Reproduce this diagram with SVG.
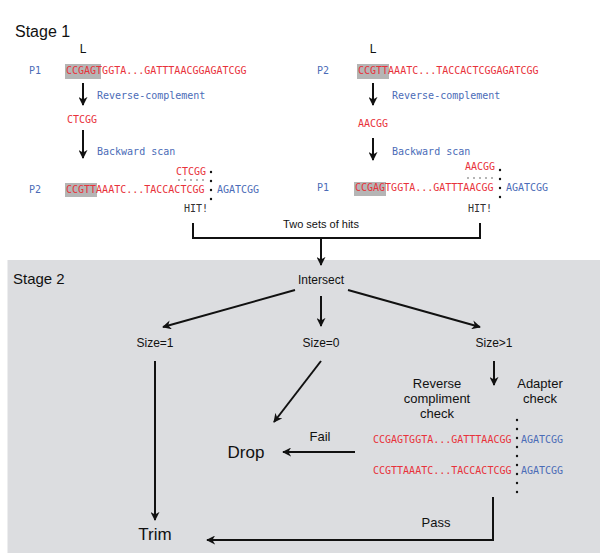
<svg xmlns="http://www.w3.org/2000/svg" width="600" height="553" viewBox="0 0 600 553">
<style>
.h{font-family:"Liberation Sans",Arial,sans-serif;fill:#111}
.m{font-family:"DejaVu Sans Mono","Liberation Mono",monospace;font-size:10px}
.r{fill:#e8323a}
.b{fill:#4b6cb7}
.k{fill:#333333}
.hl{fill:#b5b5b5}
.ln{fill:none;stroke:#111;stroke-width:2}
.ar{fill:none;stroke:#111;stroke-width:2;marker-end:url(#ah)}
.c{text-anchor:middle}
</style>
<defs>
<marker id="ah" viewBox="0 0 10 10" refX="9" refY="5" markerWidth="9" markerHeight="9" markerUnits="userSpaceOnUse" orient="auto">
<path d="M0,0 L10,5 L0,10 L3,5 z" fill="#111"/>
</marker>
<g id="colon4"><circle cx="0" cy="0" r="1.2"/><circle cx="0" cy="9" r="1.2"/><circle cx="0" cy="18" r="1.2"/><circle cx="0" cy="27" r="1.2"/></g>
<g id="dots5" fill="#333"><circle cx="0" cy="0" r="0.7"/><circle cx="6" cy="0" r="0.7"/><circle cx="12" cy="0" r="0.7"/><circle cx="18" cy="0" r="0.7"/><circle cx="24" cy="0" r="0.7"/></g>
</defs>
<rect x="7.5" y="260" width="592.5" height="293" fill="#dcdde0"/>
<text class="h" x="15" y="37" font-size="16">Stage 1</text>
<text class="h" x="13" y="284" font-size="15">Stage 2</text>
<g id="stage1-left">
<text class="h c" x="83" y="53" font-size="12">L</text>
<text class="m b" x="29" y="74">P1</text>
<rect class="hl" x="65" y="64" width="36" height="15"/>
<text class="m r" x="66" y="74">CCGAGTGGTA...GATTTAACGGAGATCGG</text>
<text class="m b" x="97" y="99">Reverse-complement</text>
<text class="m r" x="67" y="123">CTCGG</text>
<text class="m b" x="97" y="155">Backward scan</text>
<text class="m r" x="176" y="175">CTCGG</text>
<use href="#dots5" x="179" y="180"/>
<use href="#colon4" x="211" y="172" fill="#111"/>
<text class="m b" x="29" y="193">P2</text>
<rect class="hl" x="65" y="183" width="32" height="14"/>
<text class="m r" x="66" y="193">CCGTTAAATC...TACCACTCGG</text>
<text class="m b" x="217" y="193">AGATCGG</text>
<text class="m" x="184" y="212" fill="#333">HIT!</text>
</g>
<g id="stage1-right">
<text class="h c" x="373" y="53" font-size="12">L</text>
<text class="m b" x="317" y="74">P2</text>
<rect class="hl" x="357" y="64" width="32" height="15"/>
<text class="m r" x="358" y="74">CCGTTAAATC...TACCACTCGGAGATCGG</text>
<text class="m b" x="392" y="99">Reverse-complement</text>
<text class="m r" x="358" y="127">AACGG</text>
<text class="m b" x="392" y="155">Backward scan</text>
<text class="m r" x="465" y="170">AACGG</text>
<use href="#dots5" x="468" y="178"/>
<use href="#colon4" x="500" y="170" fill="#111"/>
<text class="m b" x="317" y="191">P1</text>
<rect class="hl" x="354" y="182" width="32" height="14"/>
<text class="m r" x="355" y="191">CCGAGTGGTA...GATTTAACGG</text>
<text class="m b" x="506" y="191">AGATCGG</text>
<text class="m" x="468" y="212" fill="#333">HIT!</text>
</g>
<g id="hits"><text class="h c" x="321" y="228" font-size="11">Two sets of hits</text></g>
<g id="intersect"><text class="h c" x="321" y="284" font-size="12">Intersect</text></g>
<g id="size1"><text class="h c" x="155" y="347" font-size="12">Size=1</text></g>
<g id="size0"><text class="h c" x="321" y="347" font-size="12">Size=0</text></g>
<g id="sizegt1"><text class="h c" x="494" y="347" font-size="12">Size&gt;1</text></g>
<g id="rccheck">
<text class="h c" x="437" y="388" font-size="13">Reverse</text>
<text class="h c" x="437" y="403" font-size="13">compliment</text>
<text class="h c" x="437" y="418" font-size="13">check</text>
<text class="h c" x="540" y="388" font-size="13">Adapter</text>
<text class="h c" x="540" y="403" font-size="13">check</text>
<text class="m r" x="373" y="443">CCGAGTGGTA...GATTTAACGG</text>
<text class="m b" x="521" y="443">AGATCGG</text>
<text class="m r" x="373" y="474">CCGTTAAATC...TACCACTCGG</text>
<text class="m b" x="521" y="474">AGATCGG</text>
<use href="#colon4" x="517" y="420" fill="#111"/>
<use href="#colon4" x="517" y="456" fill="#111"/>
<circle cx="517" cy="492" r="1.2" fill="#111"/>
</g>
<g id="drop"><text class="h c" x="246" y="458" font-size="17">Drop</text></g>
<g id="trim"><text class="h c" x="155" y="540" font-size="17">Trim</text></g>
<g id="connectors">
<line class="ar" x1="83" y1="83" x2="83" y2="105"/>
<line class="ar" x1="83" y1="130" x2="83" y2="158"/>
<line class="ar" x1="373" y1="83" x2="373" y2="105"/>
<line class="ar" x1="373" y1="138" x2="373" y2="160"/>
<path class="ln" d="M193,223 V238 H480 V223"/>
<line class="ar" x1="321" y1="238" x2="321" y2="265"/>
<line class="ar" x1="295" y1="290" x2="163" y2="327"/>
<line class="ar" x1="321" y1="296" x2="321" y2="326"/>
<line class="ar" x1="348" y1="290" x2="480" y2="327"/>
<line class="ar" x1="155" y1="361" x2="155" y2="520"/>
<line class="ar" x1="321" y1="361" x2="274" y2="422"/>
<line class="ar" x1="494" y1="361" x2="494" y2="385"/>
<line class="ar" x1="355" y1="452" x2="283" y2="452"/>
<text class="h c" x="320" y="441" font-size="13">Fail</text>
<path class="ar" d="M493,497 V540 H207"/>
<text class="h c" x="436" y="527" font-size="13">Pass</text>
</g>
</svg>
